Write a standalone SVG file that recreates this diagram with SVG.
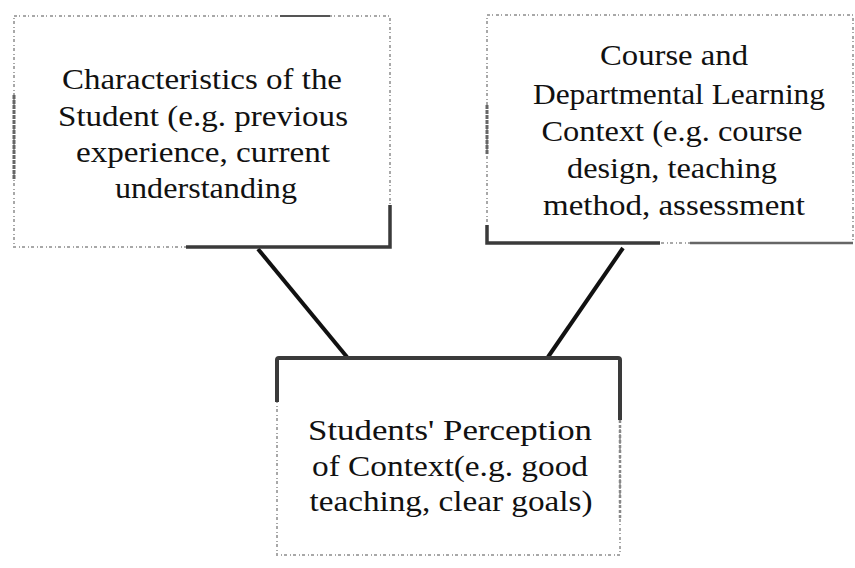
<svg xmlns="http://www.w3.org/2000/svg" width="855" height="568" viewBox="0 0 855 568">
<style>
.t{font-family:"Liberation Serif","Times New Roman",serif;font-size:30px;fill:#111;text-anchor:middle}
.lite{fill:none;stroke:#a8a8a8;stroke-width:2;stroke-dasharray:3 2 1 3}
.dark{fill:none;stroke:#3a3a3a;stroke-width:3.5}
.conn{stroke:#111;stroke-width:4;stroke-linecap:butt}
</style>
<rect width="855" height="568" fill="#fff"/>
<g id="connectors">
<line class="conn" x1="258" y1="249" x2="347" y2="357"/>
<line class="conn" x1="623" y1="248" x2="548" y2="357"/>
</g>
<g id="node-student">
<rect class="lite" x="14" y="16" width="376" height="231"/>
<path class="dark" d="M14 95V180" style="stroke:#666;stroke-width:3;stroke-dasharray:4 1"/>
<path class="dark" d="M390 205V247H186"/>
<path class="dark" d="M280 16H330" style="stroke-width:2;stroke:#555"/>
<text class="t" x="202" y="89" textLength="280" lengthAdjust="spacingAndGlyphs">Characteristics of the</text>
<text class="t" x="203" y="126" textLength="290" lengthAdjust="spacingAndGlyphs">Student (e.g. previous</text>
<text class="t" x="203" y="162" textLength="254" lengthAdjust="spacingAndGlyphs">experience, current</text>
<text class="t" x="206" y="198" textLength="182" lengthAdjust="spacingAndGlyphs">understanding</text>
</g>
<g id="node-course">
<rect class="lite" x="487" y="15" width="366" height="228"/>
<path class="dark" d="M487 105V155" style="stroke:#666;stroke-width:3;stroke-dasharray:4 1"/>
<path class="dark" d="M487 225V243H660"/>
<path class="dark" d="M690 243H853" style="stroke:#666;stroke-width:2.5"/>
<text class="t" x="674" y="65" textLength="148" lengthAdjust="spacingAndGlyphs">Course and</text>
<text class="t" x="679" y="104" textLength="292" lengthAdjust="spacingAndGlyphs">Departmental Learning</text>
<text class="t" x="672" y="141" textLength="261" lengthAdjust="spacingAndGlyphs">Context (e.g. course</text>
<text class="t" x="672" y="178" textLength="210" lengthAdjust="spacingAndGlyphs">design, teaching</text>
<text class="t" x="674" y="215" textLength="262" lengthAdjust="spacingAndGlyphs">method, assessment</text>
</g>
<g id="node-perception">
<rect class="lite" x="277" y="358" width="343" height="197"/>
<path class="dark" d="M277 402V360Q277 358 279 358H618Q620 358 620 360V420" style="stroke-width:4"/>
<path class="dark" d="M620 420V520" style="stroke:#888;stroke-width:2.5;stroke-dasharray:3 2"/>
<text class="t" x="450" y="440" textLength="284" lengthAdjust="spacingAndGlyphs">Students' Perception</text>
<text class="t" x="450" y="476" textLength="276" lengthAdjust="spacingAndGlyphs">of Context(e.g. good</text>
<text class="t" x="451" y="511" textLength="283" lengthAdjust="spacingAndGlyphs">teaching, clear goals)</text>
</g>
</svg>
